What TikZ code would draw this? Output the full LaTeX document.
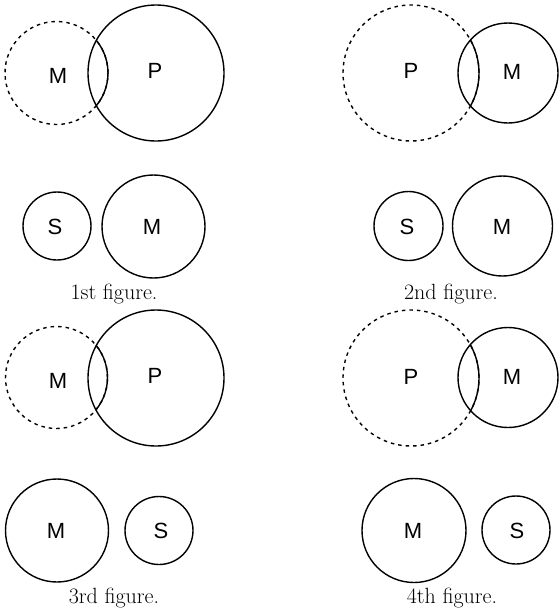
\documentclass[tikz,border=0pt]{standalone}
\usepackage{fontspec}
\newfontfamily\labelfont{Liberation Sans}
\begin{document}
\begin{tikzpicture}[x=1pt,y=-1pt,
  ring/.style={draw,circle,line width=1.4pt,inner sep=0pt},
  dashring/.style={ring,dash pattern=on 3.5pt off 4pt},
  lbl/.style={font=\labelfont\fontsize{22}{26}\selectfont,inner sep=0pt},
  figcap/.style={font=\fontsize{22}{26}\selectfont,anchor=base,inner sep=0pt}]
\useasboundingbox (0,0) rectangle (558,611);
% ---------- 1st figure ----------
\node[dashring,minimum size=103pt] (m1) at (56.5,73) {};
\node[ring,minimum size=136pt] (p1) at (156,73) {};
\begin{scope}
  \clip (156,73) circle (68);
  \node[ring,minimum size=103pt] (m1s) at (56.5,73) {};
\end{scope}
\node[lbl] (m1l) at (58,76) {M};
\node[lbl] (p1l) at (155,71) {P};
\node[ring,minimum size=68pt] (s1) at (57,226) {};
\node[ring,minimum size=103pt] (mm1) at (153.5,226.5) {};
\node[lbl] (s1l) at (55,227) {S};
\node[lbl] (mm1l) at (152,227) {M};
\node[figcap] (c1) at (114,299) {1st figure.};
% ---------- 2nd figure ----------
\node[dashring,minimum size=136pt] (p2) at (411,73) {};
\node[ring,minimum size=100pt] (m2) at (508,73) {};
\begin{scope}
  \clip (508,73) circle (50);
  \node[ring,minimum size=136pt] (p2s) at (411,73) {};
\end{scope}
\node[lbl] (p2l) at (411,71) {P};
\node[lbl] (m2l) at (512,72) {M};
\node[ring,minimum size=69pt] (s2) at (408.5,226) {};
\node[ring,minimum size=100pt] (mm2) at (502.5,226) {};
\node[lbl] (s2l) at (407,227) {S};
\node[lbl] (mm2l) at (502,227) {M};
\node[figcap] (c2) at (451,299) {2nd figure.};
% ---------- 3rd figure ----------
\node[dashring,minimum size=102pt] (m3) at (56.5,377.5) {};
\node[ring,minimum size=136pt] (p3) at (156,378) {};
\begin{scope}
  \clip (156,378) circle (68);
  \node[ring,minimum size=102pt] (m3s) at (56.5,377.5) {};
\end{scope}
\node[lbl] (m3l) at (58,381) {M};
\node[lbl] (p3l) at (155,376) {P};
\node[ring,minimum size=103pt] (mm3) at (57,530.5) {};
\node[ring,minimum size=68pt] (s3) at (159,530.5) {};
\node[lbl] (mm3l) at (56,531) {M};
\node[lbl] (s3l) at (161,531) {S};
\node[figcap] (c3) at (114,603) {3rd figure.};
% ---------- 4th figure ----------
\node[dashring,minimum size=136pt] (p4) at (411,378) {};
\node[ring,minimum size=100pt] (m4) at (508,377.5) {};
\begin{scope}
  \clip (508,377.5) circle (50);
  \node[ring,minimum size=136pt] (p4s) at (411,378) {};
\end{scope}
\node[lbl] (p4l) at (411,377) {P};
\node[lbl] (m4l) at (512,377) {M};
\node[ring,minimum size=104pt] (mm4) at (414,530.5) {};
\node[ring,minimum size=68pt] (s4) at (516,530) {};
\node[lbl] (mm4l) at (413,531) {M};
\node[lbl] (s4l) at (517,531) {S};
\node[figcap] (c4) at (452,603) {4th figure.};
\end{tikzpicture}
\end{document}
